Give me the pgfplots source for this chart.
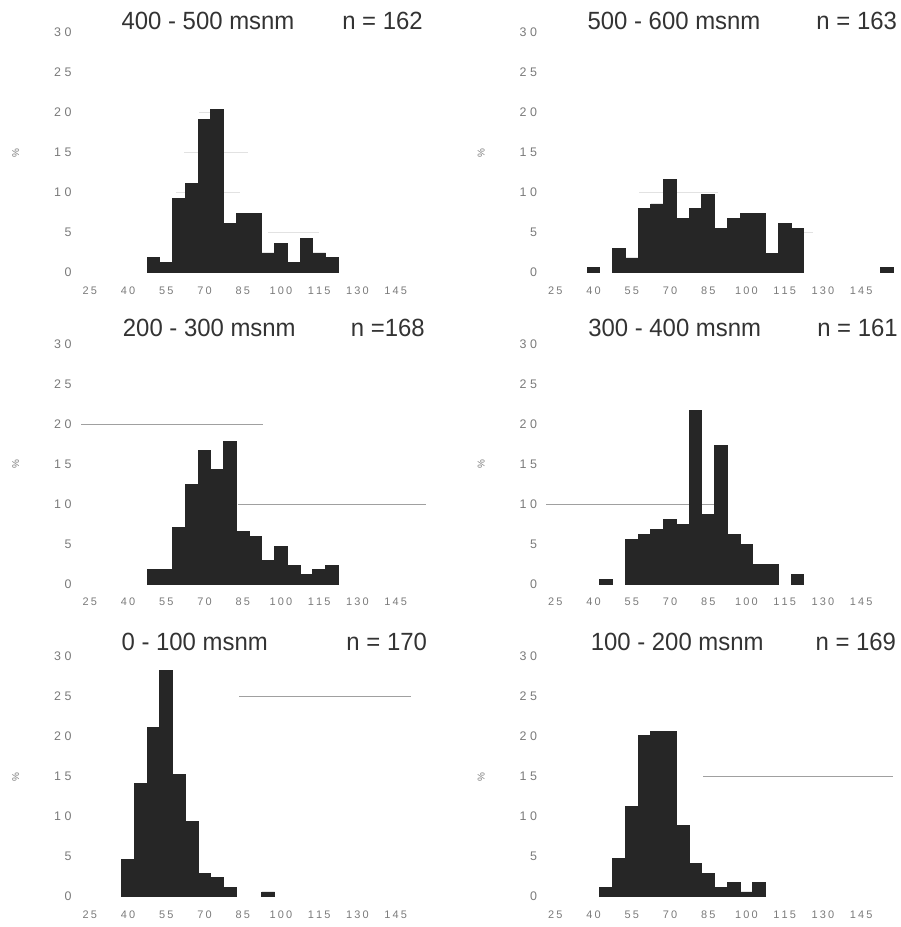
\documentclass[border=0pt]{standalone}
\usepackage{fontspec}
\setmainfont{Liberation Sans}
\newfontfamily\titlefont{Liberation Sans}[FakeStretch=0.96]
\usepackage{pgfplots}
\pgfplotsset{compat=1.18}
\definecolor{barc}{HTML}{262626}
\definecolor{tickc}{HTML}{7A7A7A}
\definecolor{gridc}{HTML}{A0A0A0}
\definecolor{faintc}{HTML}{E2E2E2}
\definecolor{titlec}{HTML}{333333}
\newcommand{\xk}{\kern2.2bp}
\newcommand{\yk}{\kern3.5bp}
\newcommand{\xf}{\fontsize{11}{12}\selectfont}
\newcommand{\yf}{\fontsize{12.5}{13}\selectfont}
\pgfplotsset{hist/.style={
  scale only axis, width=357bp, height=240bp,
  xmin=20, xmax=160, ymin=0, ymax=30,
  axis line style={draw=none},
  major tick style={draw=none},
  xtick={25,40,...,145},
  xticklabels={\xf 2\xk5,\xf 4\xk0,\xf 5\xk5,\xf 7\xk0,\xf 8\xk5,\xf 1\xk0\xk0,\xf 1\xk1\xk5,\xf 1\xk3\xk0,\xf 1\xk4\xk5},
  ytick={0,5,...,30},
  yticklabels={\yf 0,\yf 5,\yf 1\yk0,\yf 1\yk5,\yf 2\yk0,\yf 2\yk5,\yf 3\yk0},
  xticklabel style={font=\xf, text=tickc, yshift=-10.5bp},
  yticklabel style={font=\yf, text=tickc, xshift=-2bp},
  ylabel={\%},
  ylabel style={font=\fontsize{10}{11}\selectfont, text=tickc, at={(axis description cs:-0.172,0.5)}, anchor=center},
  anchor=south west, clip=false,
}}
\tikzset{bars/.style={ybar, bar width=5, fill=barc, draw=barc, line width=0.8bp}}
\begin{document}
\begin{tikzpicture}
% ---- 400-500 ----
\begin{axis}[hist, at={(77bp,654.3bp)}]
\addplot[faintc, line width=0.6bp] coordinates {(68,20) (77,20)};
\addplot[faintc, line width=0.6bp] coordinates {(62,15) (87,15)};
\addplot[faintc, line width=0.6bp] coordinates {(59,10) (84,10)};
\addplot[faintc, line width=0.6bp] coordinates {(95,5) (115,5)};
\addplot[bars] coordinates {
(50,1.85) (55,1.23) (60,9.26) (65,11.11) (70,19.14) (75,20.37) (80,6.17) (85,7.41)
(90,7.41) (95,2.47) (100,3.70) (105,1.23) (110,4.32) (115,2.47) (120,1.85)};
\end{axis}
% ---- 500-600 ----
\begin{axis}[hist, at={(542.5bp,654.3bp)}]
\addplot[faintc, line width=0.6bp] coordinates {(58,10) (89,10)};
\addplot[faintc, line width=0.6bp] coordinates {(114,5) (126,5)};
\addplot[bars] coordinates {
(40,0.61) (50,3.07) (55,1.84) (60,7.98) (65,8.59) (70,11.66) (75,6.75) (80,7.98)
(85,9.82) (90,5.52) (95,6.75) (100,7.36) (105,7.36) (110,2.45) (115,6.13) (120,5.52) (155,0.61)};
\end{axis}
% ---- 200-300 ----
\begin{axis}[hist, at={(77bp,342.8bp)}]
\addplot[gridc, line width=0.6bp] coordinates {(21.7,20) (92.8,20)};
\addplot[gridc, line width=0.6bp] coordinates {(83,10) (157,10)};
\addplot[bars] coordinates {
(50,1.79) (55,1.79) (60,7.14) (65,12.50) (70,16.67) (75,14.29) (80,17.86) (85,6.55)
(90,5.95) (95,2.98) (100,4.76) (105,2.38) (110,1.19) (115,1.79) (120,2.38)};
\end{axis}
% ---- 300-400 ----
\begin{axis}[hist, at={(542.5bp,342.8bp)}]
\addplot[gridc, line width=0.6bp] coordinates {(21.4,10) (87.6,10)};
\addplot[bars] coordinates {
(45,0.62) (55,5.59) (60,6.21) (65,6.83) (70,8.07) (75,7.45) (80,21.74) (85,8.70)
(90,17.39) (95,6.21) (100,4.97) (105,2.48) (110,2.48) (120,1.24)};
\end{axis}
% ---- 0-100 ----
\begin{axis}[hist, at={(77bp,30.3bp)}]
\addplot[gridc, line width=0.6bp] coordinates {(83.7,25) (150.9,25)};
\addplot[bars] coordinates {
(40,4.71) (45,14.12) (50,21.18) (55,28.24) (60,15.29) (65,9.41) (70,2.94) (75,2.35)
(80,1.18) (95,0.59)};
\end{axis}
% ---- 100-200 ----
\begin{axis}[hist, at={(542.5bp,30.3bp)}]
\addplot[gridc, line width=0.6bp] coordinates {(83,15) (157.5,15)};
\addplot[bars] coordinates {
(45,1.18) (50,4.73) (55,11.24) (60,20.12) (65,20.71) (70,20.71) (75,8.88) (80,4.14)
(85,2.96) (90,1.18) (95,1.78) (100,0.59) (105,1.78)};
\end{axis}
% ---- titles ----
\tikzset{ttl/.style={font=\titlefont\fontsize{25}{26}\selectfont, text=titlec, inner sep=0pt}}
\node[ttl] at (208bp,906bp) {400 - 500 msnm};
\node[ttl] at (382.5bp,906bp) {n = 162};
\node[ttl] at (674bp,906bp) {500 - 600 msnm};
\node[ttl] at (856.7bp,906bp) {n = 163};
\node[ttl] at (209.3bp,598.7bp) {200 - 300 msnm};
\node[ttl] at (387.8bp,598.7bp) {n =168};
\node[ttl] at (674.7bp,598.7bp) {300 - 400 msnm};
\node[ttl] at (857.5bp,598.7bp) {n = 161};
\node[ttl] at (194.7bp,284.7bp) {0 - 100 msnm};
\node[ttl] at (386.7bp,284.7bp) {n = 170};
\node[ttl] at (677.2bp,284.7bp) {100 - 200 msnm};
\node[ttl] at (855.8bp,284.7bp) {n = 169};
\pgfresetboundingbox
\path (0,0) rectangle (901bp,927bp);
\end{tikzpicture}
\end{document}
